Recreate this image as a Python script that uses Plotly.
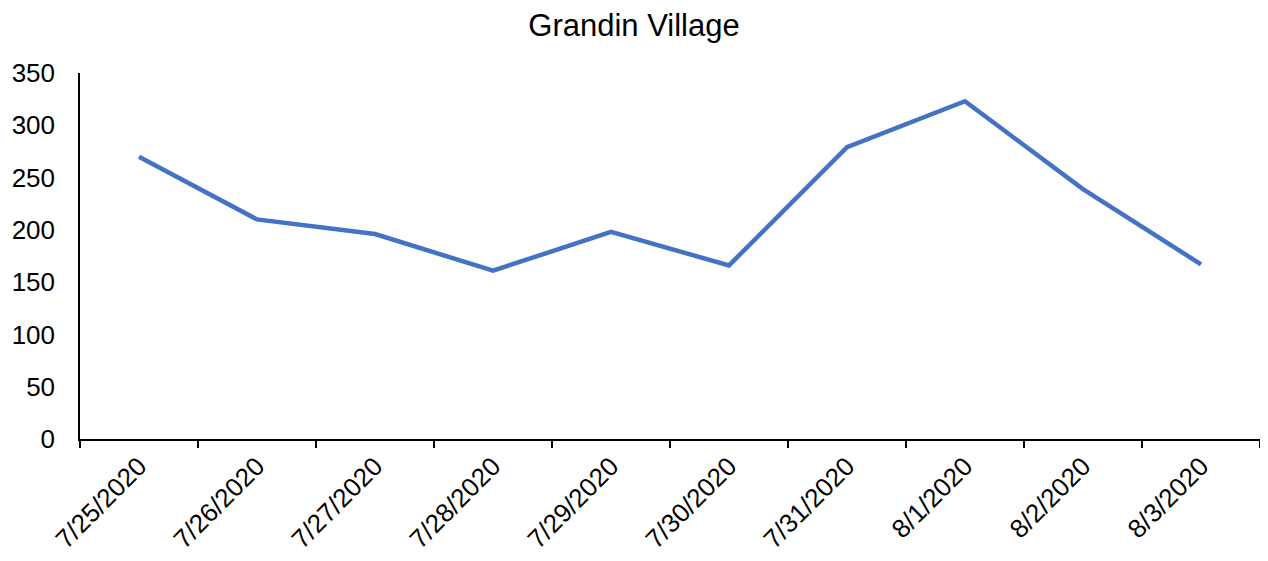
import plotly.graph_objects as go

dates = ["7/25/2020", "7/26/2020", "7/27/2020", "7/28/2020", "7/29/2020",
         "7/30/2020", "7/31/2020", "8/1/2020", "8/2/2020", "8/3/2020"]
values = [270, 210, 196, 161, 198, 166, 279, 323, 239, 167]

fig = go.Figure()
fig.add_trace(go.Scatter(x=dates, y=values, mode="lines",
                         line=dict(color="#4472C4", width=4.5)))

fig.update_layout(
    width=1252, height=545,
    margin=dict(l=72, r=0, t=65, b=114),
    paper_bgcolor="white", plot_bgcolor="white",
    showlegend=False,
    font=dict(family="Liberation Sans, Arial", size=26, color="black"),
    title=dict(text="Grandin Village", x=0.5, xanchor="center", y=0.989, yanchor="top",
               font=dict(size=31, color="black")),
)
fig.update_xaxes(type="category", range=[-0.5, 9.5], tickson="boundaries",
                 showline=True, linecolor="black", linewidth=1.5,
                 ticks="outside", ticklen=7, tickcolor="black", tickwidth=1.5,
                 tickangle=-45, showgrid=False, zeroline=False,
                 tickfont=dict(size=26))
fig.update_yaxes(range=[0, 350], dtick=50, showline=True, linecolor="black", linewidth=1.5,
                 ticks="", showgrid=False, zeroline=False, tickfont=dict(size=26),
                 ticklabelstandoff=18)

fig.write_html("out.html")
